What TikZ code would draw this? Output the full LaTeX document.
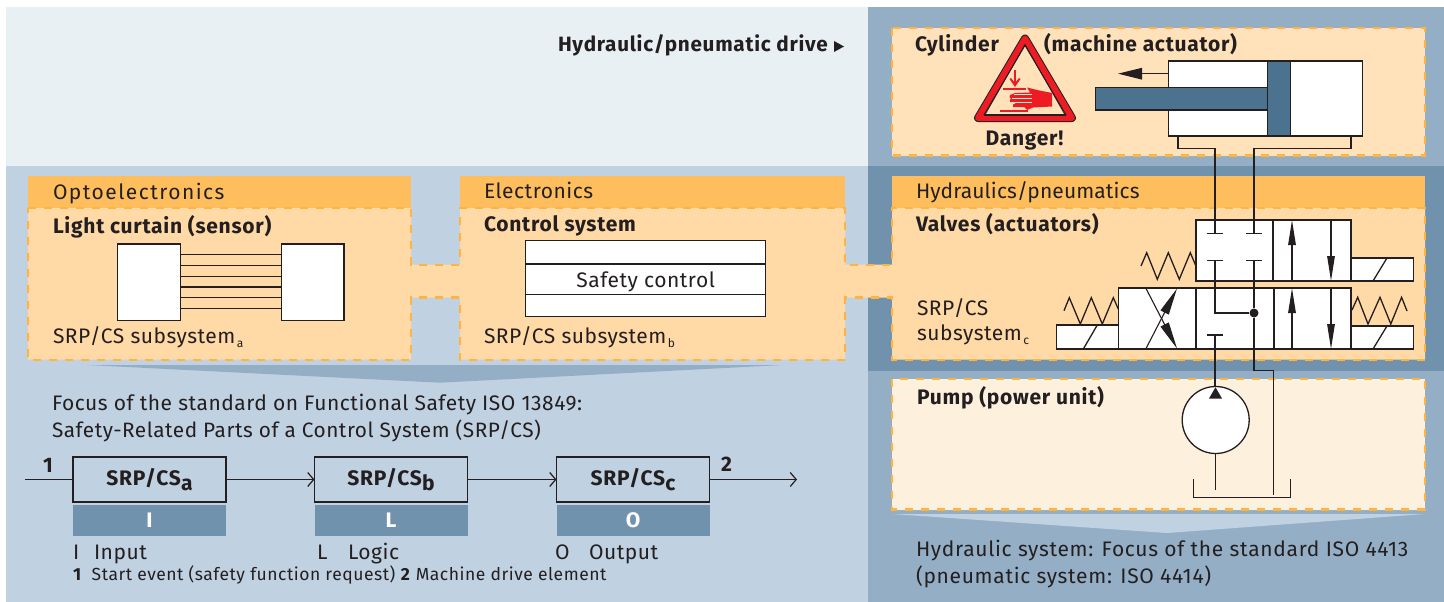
\documentclass[tikz,border=0pt]{standalone}
\usepackage{fontspec}
\setmainfont[LetterSpace=2.5,BoldFeatures={LetterSpace=3.5}]{Fira Sans}
\usetikzlibrary{arrows.meta}
\definecolor{topl}{HTML}{E8F0F4}
\definecolor{midb}{HTML}{C0D1E2}
\definecolor{rightb}{HTML}{94AFC5}
\definecolor{darkb}{HTML}{7092AD}
\definecolor{piston}{HTML}{4B7390}
\definecolor{hdr}{HTML}{FFBE5E}
\definecolor{body}{HTML}{FFD9A6}
\definecolor{cyl}{HTML}{FFE1BA}
\definecolor{pumpc}{HTML}{FDF0DD}
\definecolor{dash}{HTML}{FFB340}
\definecolor{ink}{HTML}{231F20}
\definecolor{warn}{HTML}{ED1C24}
\newcommand{\ssub}[1]{\kern1.5pt\raisebox{-4pt}{\fontsize{12}{12}\selectfont #1}}
\newcommand{\bsub}[1]{\raisebox{-5pt}{\fontsize{21}{21}\selectfont #1}}
\tikzset{
  x=1pt,y=-1pt,
  orangedash/.style={draw=dash,line width=2.2pt,dash pattern=on 8pt off 8pt},
  whitebox/.style={draw=ink,line width=1.3pt,fill=white},
  pipe/.style={draw=ink,line width=1.3pt},
  lab/.style={anchor=base west,inner sep=0pt,outer sep=0pt,text=ink,font=\fontsize{21}{21}\selectfont},
  blab/.style={lab,font=\fontsize{21}{21}\selectfont\bfseries},
  small lab/.style={lab,font=\fontsize{17.5}{17.5}\selectfont\addfontfeatures{LetterSpace=3}},
  srp/.style={draw=ink,line width=1.3pt,anchor=north west,inner sep=0pt,outer sep=0pt,minimum width=153pt,minimum height=45pt,text=ink,font=\fontsize{21}{21}\selectfont\bfseries},
  tag/.style={fill=darkb,anchor=north west,inner sep=0pt,outer sep=0pt,minimum width=153pt,minimum height=31pt,text=white,font=\fontsize{21}{21}\selectfont\bfseries},
  flow/.style={draw=ink,line width=1.2pt,-{Straight Barb[length=6pt,width=14pt]}},
  solidhead/.style={draw=ink,line width=1.2pt,-{Triangle[length=25pt,width=7.5pt]}},
  crossing/.style={draw=ink,line width=1.1pt,-{Triangle[length=27pt,width=9pt]}},
}
\begin{document}
\begin{tikzpicture}
\useasboundingbox (0,0) rectangle (1444,602);
% panels
\fill[white] (0,0) rectangle (1444,602);
\fill[topl] (6,7) rectangle (868,166);
\fill[midb] (6,166) rectangle (868,601.5);
\fill[rightb] (868,7) rectangle (1444,601.5);
\fill[darkb] (868,166) rectangle (1444,371);
% funnels
\fill[rightb] (87,365) -- (783,365) -- (440,382.7) -- cycle;
\fill[midb] (892,514) -- (1425,514) -- (1167,533) -- cycle;
% orange boxes
\fill[hdr] (28,176) rectangle (411,208);
\fill[hdr] (460,176) rectangle (845,208);
\fill[hdr] (892,176) rectangle (1425,208);
\path[fill=body,orangedash] (28,208) -- (411,208) -- (411,264.7) -- (460,264.7) -- (460,208) -- (845,208) -- (845,264.7) -- (892,264.7) -- (892,208) -- (1425,208) -- (1425,359.7) -- (892,359.7) -- (892,297.5) -- (845,297.5) -- (845,359.7) -- (460,359.7) -- (460,297.5) -- (411,297.5) -- (411,359.7) -- (28,359.7) -- cycle;
\path[fill=cyl,orangedash] (892,28) rectangle (1425,155.5);
\path[fill=pumpc,orangedash] (892,378.7) rectangle (1425,509.5);
% headings
\node[lab,font=\fontsize{20.7}{21}\selectfont\bfseries] (drive) at (558,52) {Hydraulic/pneumatic drive};
\fill[ink] (834,41) -- (844,46.5) -- (834,52) -- cycle;
\node[blab] (cyltxt) at (915,52) {Cylinder};
\node[blab] (acttxt) at (1044,52) {(machine actuator)};
\node[blab,anchor=base] (danger) at (1024.5,146) {Danger!};
\node[lab] (opto) at (53,199) {\addfontfeatures{LetterSpace=7}Optoelectronics};
\node[blab] (curtain) at (53,233) {Light curtain (sensor)};
\node[lab] (suba) at (53,343) {SRP/CS subsystem\ssub{a}};
\node[lab] (elec) at (484,198) {Electronics};
\node[blab] (ctrl) at (484,231) {Control system};
\node[lab] (subb) at (484,343) {SRP/CS subsystem\ssub{b}};
\node[lab] (hyd) at (916,198) {\addfontfeatures{LetterSpace=0.5}Hydraulics/pneumatics};
\node[blab] (valves) at (916,231) {Valves (actuators)};
\node[lab] (subc1) at (917,315) {SRP/CS};
\node[lab] (subc2) at (917,340) {subsystem\ssub{c}};
\node[blab] (pumpt) at (917,404) {Pump (power unit)};
\node[lab] (focus1) at (52,410) {Focus of the standard on Functional Safety ISO 13849:};
\node[lab,font=\fontsize{20.8}{21}\selectfont] (focus2) at (52,437) {Safety-Related Parts of a Control System (SRP/CS)};
\node[lab] (hs1) at (916,556) {\addfontfeatures{LetterSpace=3.3}Hydraulic system: Focus of the standard ISO 4413};
\node[lab] (hs2) at (916,583) {\addfontfeatures{LetterSpace=3.3}(pneumatic system: ISO 4414)};
% light curtain
\node[whitebox,anchor=north west,inner sep=0pt,minimum width=62.7pt,minimum height=76.7pt] (lc1) at (117,243.3) {};
\node[whitebox,anchor=north west,inner sep=0pt,minimum width=62.3pt,minimum height=76.7pt] (lc2) at (281,243.3) {};
\foreach \yy in {254.7,265.3,276.3,287,297.7,308.7}
  \draw[pipe] (179.7,\yy) -- (281,\yy);
% safety control
\draw[whitebox] (525.7,240.3) rectangle (765.7,316.7);
\draw[pipe] (525.7,264) -- (765.7,264);
\draw[pipe] (525.7,294.7) -- (765.7,294.7);
\node[lab,anchor=base] (safety) at (645.7,287) {Safety control};
% warning sign
\draw[ink,line width=8pt,line join=round] (1025,38.5) -- (978,118) -- (1072,118) -- cycle;
\draw[warn,line width=6pt,line join=round] (1025,38.5) -- (978,118) -- (1072,118) -- cycle;
\draw[ink,line width=0.9pt,line join=miter] (1025,44.5) -- (984.5,115.5) -- (1065.5,115.5) -- cycle;
\draw[warn,line width=1.6pt] (1015,70) -- (1015,84);
\fill[warn] (1009.5,79) -- (1011,78) -- (1015,83) -- (1019,78) -- (1020.5,79) -- (1015,87) -- cycle;
\fill[warn] (1003.3,88.3) rectangle (1026,90.3);
\fill[warn] (1000,110.2) rectangle (1028.3,112.2);
\fill[warn] (1027,87.5) -- (1037,90) -- (1052,93) -- (1052,106.5) -- (1033,107.5) -- (1027,110) -- (1024,107) -- (1013,107) -- (1013,104.5) -- (1016,103) -- (1010,102) -- (1010,99.8) -- (1011,98.5) -- (1009.5,97.5) -- (1010,95) -- (1015,93) -- (1030,92.5) -- cycle;
\draw[cyl,line width=0.7pt] (1012,98.5) -- (1032,98.5);
\draw[cyl,line width=0.7pt] (1012,102.7) -- (1032,102.7);
\draw[cyl,line width=0.7pt] (1014,94.5) -- (1032,94.5);
% cylinder
\draw[whitebox] (1168.5,61) rectangle (1362.7,136);
\fill[piston,draw=ink,line width=1.1pt] (1267.4,61) rectangle (1290.8,136);
\fill[piston,draw=ink,line width=1.1pt] (1095.8,87.7) rectangle (1267.4,110);
\draw[pipe,-{Triangle[length=24pt,width=11.5pt]}] (1168.5,73.7) -- (1118,73.7);
% upper valve
\draw[whitebox] (1196,220) rectangle (1351,281);
\draw[pipe] (1273,220) -- (1273,281);
\draw[whitebox] (1351,258) rectangle (1413.5,281);
\draw[pipe] (1373,281) -- (1387,258);
\draw[pipe] (1141,266) -- (1146.7,252.7) -- (1157.3,279.3) -- (1168.3,252.7) -- (1179.3,279.3) -- (1190.3,252.7) -- (1195.5,265);
\draw[solidhead] (1292,281) -- (1292,220);
\draw[solidhead] (1331,220) -- (1331,281);
% lower valve
\draw[whitebox] (1118.5,288) rectangle (1351,349);
\draw[pipe] (1196,288) -- (1196,349);
\draw[pipe] (1274,288) -- (1274,349);
\draw[whitebox] (1056.3,325) rectangle (1118.5,349);
\draw[pipe] (1083.3,349) -- (1097.3,325);
\draw[whitebox] (1351,326) rectangle (1413.5,349);
\draw[pipe] (1373,349) -- (1387,326);
\draw[pipe] (1064,310.7) -- (1069.3,297.7) -- (1080.3,324) -- (1091.3,297.7) -- (1102.3,324) -- (1113.3,297.7) -- (1118.3,309);
\draw[pipe] (1352,310) -- (1357.7,297.3) -- (1368,324) -- (1380,297.3) -- (1390.8,324) -- (1401.6,297.3) -- (1407,311);
\draw[crossing] (1146,288.5) -- (1177,348.5);
\draw[crossing] (1146,348.5) -- (1177,288.5);
\draw[solidhead] (1292,349) -- (1292,288);
\draw[solidhead] (1331,288) -- (1331,349);
% pump and tank
\node[whitebox,circle,inner sep=0pt,minimum size=67pt] (pump) at (1215.7,420) {};
\fill[ink] (1215.5,387.3) -- (1222,398.5) -- (1209,398.5) -- cycle;
\draw[pipe] (1193.3,479) -- (1193.3,497.7) -- (1290.7,497.7) -- (1290.7,479);
\coordinate (cylL) at (1178,136);
\coordinate (cylR) at (1351,136);
\coordinate (barA) at (1215,233.7);
\coordinate (barB) at (1254,233.7);
\coordinate (barC) at (1215,260.7);
\coordinate (barD) at (1254,260.7);
\coordinate (barE) at (1215,335);
\coordinate (tankR) at (1273.7,495);
\coordinate (tankP) at (1215.7,489.7);
\node[circle,fill=ink,inner sep=0pt,minimum size=9pt] (jct) at (1254,313) {};
\draw[pipe] (cylL) -- (1178,148.5) -- (1215,148.5) -- (barA);
\draw[pipe] (cylR) -- (1351,148.5) -- (1254,148.5) -- (barB);
\draw[pipe] (barC) -- (1215,313) -- (jct);
\draw[pipe] (barD) -- (jct) -- (1254,370.7) -- (1273.7,370.7) -- (tankR);
\draw[pipe] (barE) -- (1215,387.3);
\draw[pipe] (pump.south) -- (tankP);
\foreach \c in {barA,barB,barC,barD,barE}
  \draw[pipe] ([xshift=-8pt]\c) -- ([xshift=8pt]\c);
% block diagram
\node[srp] (sa) at (73,457) {SRP/CS\bsub{a}};
\node[srp] (sb) at (314.5,457) {SRP/CS\bsub{b}};
\node[srp] (sc) at (556.5,457) {SRP/CS\bsub{c}};
\node[tag] (ti) at (73,505) {I};
\node[tag] (tl) at (314.5,505) {L};
\node[tag] (to) at (556.5,505) {O};
\coordinate (inp) at (25,479.5);
\coordinate (outp) at (797,479.5);
\draw[pipe] (inp) -- (sa.west);
\draw[flow] (sa) -- (sb);
\draw[flow] (sb) -- (sc);
\draw[flow] (sc) -- (outp);
\node[blab] (n1) at (43,472) {1};
\node[blab] (n2) at (721,471) {2};
\node[lab] (li) at (73,559) {I};
\node[lab] (lin) at (94,559) {Input};
\node[lab] (ll) at (317,559) {L};
\node[lab] (llg) at (348,559) {Logic};
\node[lab] (lo) at (555,559) {O};
\node[lab] (lout) at (589,559) {Output};
\node[small lab] (note) at (73,580) {\textbf{1}\hspace{10pt}Start event (safety function request) \textbf{2} Machine drive element};
\end{tikzpicture}
\end{document}
